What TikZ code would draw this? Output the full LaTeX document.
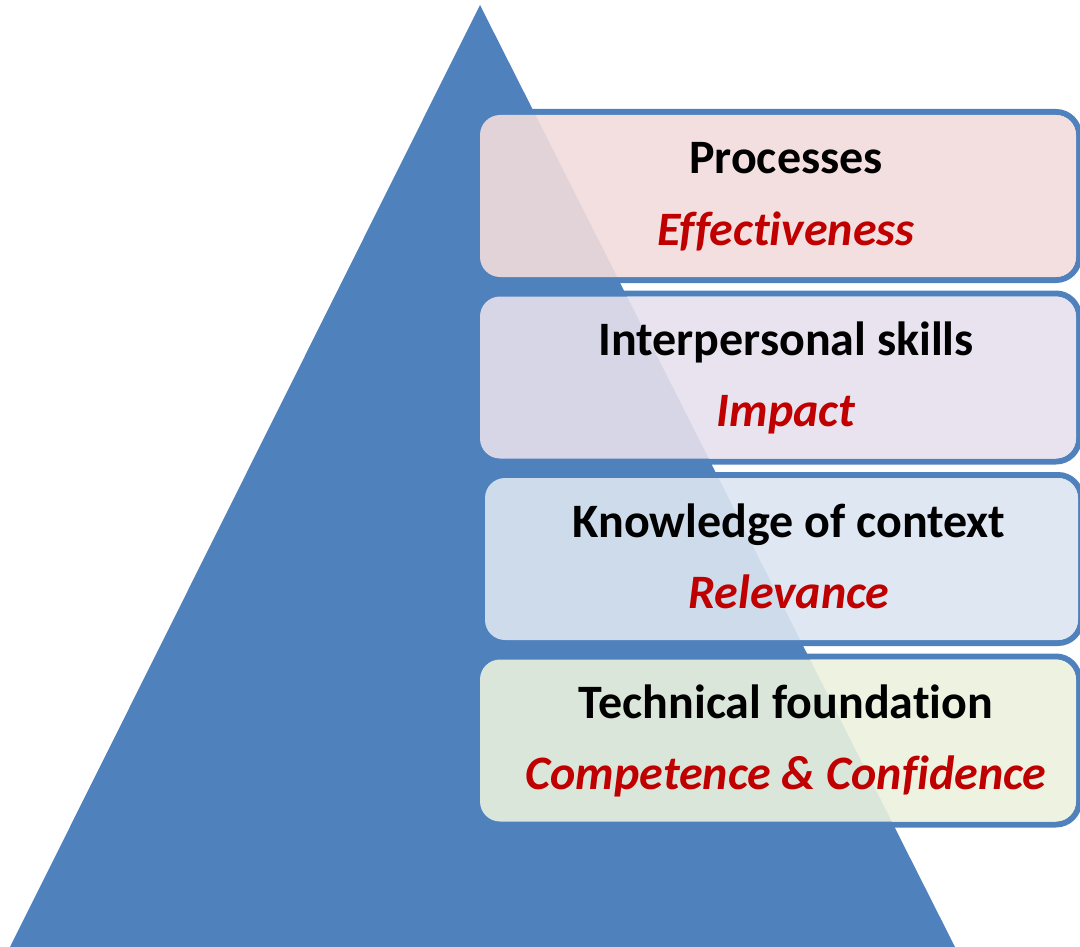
\documentclass[tikz,border=0pt]{standalone}
\usepackage{fontspec}
\setmainfont{Carlito}[Ligatures=NoCommon]
\usepackage{tikz}
\usetikzlibrary{positioning}
\definecolor{pyramidblue}{HTML}{4F81BD}
\definecolor{mottored}{HTML}{C00000}
\definecolor{processfill}{HTML}{F2DCDB}
\definecolor{peoplefill}{HTML}{E5E0EC}
\definecolor{contextfill}{HTML}{DBE5F1}
\definecolor{basefill}{HTML}{EBF1DE}
\tikzstyle{layerrim}=[
        draw=pyramidblue,
        line width=6pt,
        rounded corners=23pt
]
\tikzstyle{layerfill}=[
        fill opacity=0.9,
        rounded corners=20pt
]
\tikzstyle{title}=[
        anchor=base,
        font=\fontsize{48}{57}\selectfont\bfseries
]
\tikzstyle{motto}=[
        anchor=base,
        text=mottored,
        font=\fontsize{48}{57}\selectfont\bfseries\itshape
]

\begin{document}
\begin{tikzpicture}[x=1pt,y=-1pt]
                        \useasboundingbox (0,0) rectangle (1080,947);

                        % pyramid
                        \fill[pyramidblue] (480,5) -- (955,947) -- (10,947) -- cycle;

                        % layers, top to bottom
                        \draw[layerrim] (477,112) rectangle (1079,280);
                        \fill[layerfill, fill=processfill] (480,115) rectangle (1076,277);
                        \node[title] (processes) at (786,174) {Processes};
                        \node[motto] (effectiveness) at (786,245) {Effectiveness};

                        \draw[layerrim] (477,293.5) rectangle (1079,461.5);
                        \fill[layerfill, fill=peoplefill] (480,296.5) rectangle (1076,458.5);
                        \node[title] (interpersonal) at (786,355.5) {Interpersonal skills};
                        \node[motto] (impact) at (786,426.5) {Impact};

                        \draw[layerrim] (482,475) rectangle (1081,643);
                        \fill[layerfill, fill=contextfill] (485,478) rectangle (1078,640);
                        \node[title] (knowledge) at (789,537) {Knowledge of context};
                        \node[motto] (relevance) at (789,608) {Relevance};

                        \draw[layerrim] (477,656.5) rectangle (1079,824.5);
                        \fill[layerfill, fill=basefill] (480,659.5) rectangle (1076,821.5);
                        \node[title] (technical) at (786,718.5) {Technical foundation};
                        \node[motto] (competence) at (786,789.5) {Competence \& Confidence};

                    \end{tikzpicture}
\end{document}
